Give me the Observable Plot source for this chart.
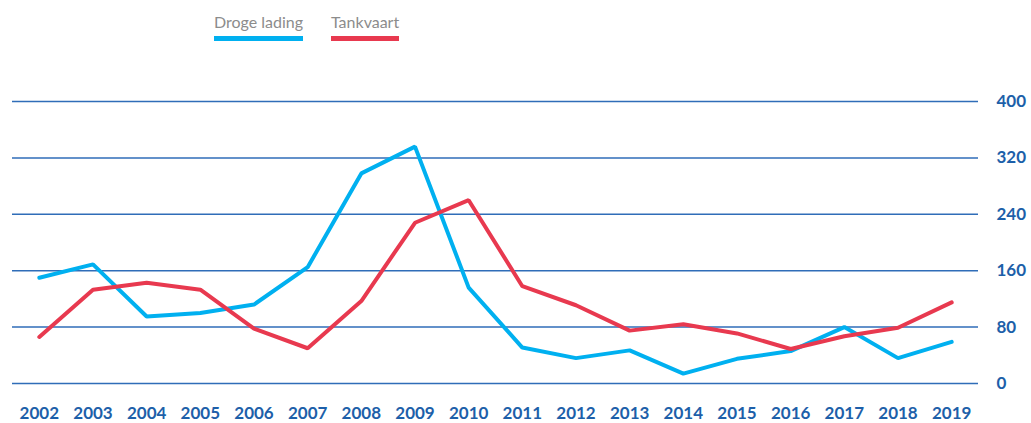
<!DOCTYPE html>
<html><head><meta charset="utf-8">
<script src="https://cdn.jsdelivr.net/npm/d3@7"></script>
<script src="https://cdn.jsdelivr.net/npm/@observablehq/plot@0.6"></script>
<style>
body{margin:0;background:#fff;font-family:Lato,sans-serif;}
#legend{position:relative;height:48px;}
.item{position:absolute;top:12px;color:#8c8c8c;font-size:16px;line-height:20px;}
.item span.bar{display:block;height:4.5px;margin-top:4px;}
</style></head><body>
<div id="legend"></div>
<div id="chart"></div>
<script>
const years = [2002,2003,2004,2005,2006,2007,2008,2009,2010,2011,2012,2013,2014,2015,2016,2017,2018,2019];
const drogeLading = [150,169,95,100,112,165,298,336,136,51,36,47,14,35,46,80,36,59];
const tankvaart = [66,133,143,133,78,50,117,228,260,138,111,75,84,71,49,67,79,115];
const yTicks = [0,80,160,240,320,400];
const seriesNames = ["Droge lading","Tankvaart"];
const seriesColors = ["#00b0f0","#e8394f"];

const data = [];
years.forEach((y,i)=>{
  data.push({year:y, value:drogeLading[i], series:seriesNames[0]});
  data.push({year:y, value:tankvaart[i], series:seriesNames[1]});
});

const legend = document.getElementById("legend");
const lx = [214, 331];
seriesNames.forEach((n,i)=>{
  const d = document.createElement("div");
  d.className="item"; d.style.left=lx[i]+"px";
  d.innerHTML = `<span>${n}</span><span class="bar" style="background:${seriesColors[i]}"></span>`;
  legend.appendChild(d);
});

const chart = Plot.plot({
  width:1031, height:375,
  marginLeft:12, marginRight:53, marginTop:53, marginBottom:40,
  style:{fontFamily:"Lato, sans-serif", fontSize:"17px", background:"transparent"},
  x:{type:"point", domain:years, padding:0.5, round:false, label:null},
  y:{domain:[0,400], label:null},
  color:{domain:seriesNames, range:seriesColors},
  marks:[
    Plot.ruleY(yTicks,{stroke:"#2f6db8", strokeWidth:1.5}),
    Plot.axisY({anchor:"right", ticks:yTicks, tickSize:0, tickPadding:18, textAnchor:"start", fill:"#1d5fa9", fontWeight:"bold", fontSize:17, label:null}),
    Plot.axisX({tickSize:0, tickPadding:23, fill:"#1d5fa9", fontWeight:"bold", fontSize:17, label:null, tickFormat:d=>String(d)}),
    Plot.line(data,{x:"year", y:"value", z:"series", stroke:"series", strokeWidth:4, strokeLinejoin:"miter"})
  ]
});
document.getElementById("chart").appendChild(chart);
</script>
</body></html>
